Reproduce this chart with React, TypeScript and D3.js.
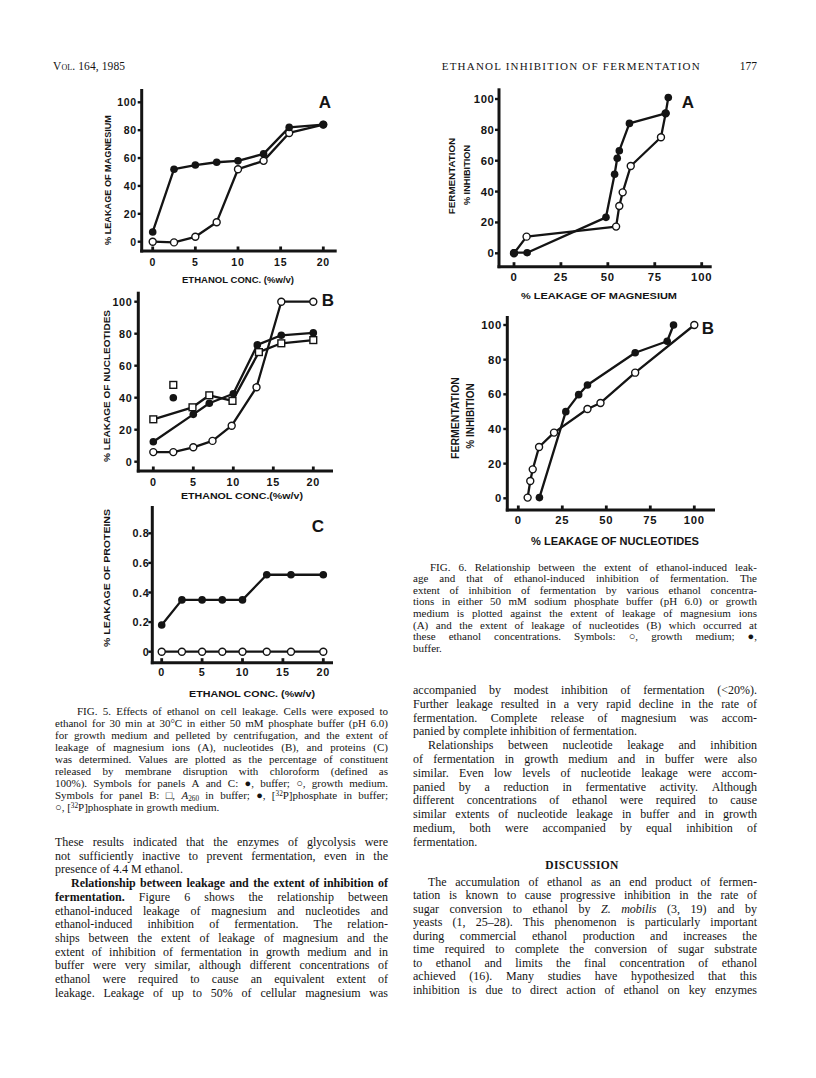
import React from 'react';
import * as d3 from 'd3';

// ---------- DATA ----------
// Fig 5A: % leakage of magnesium vs ethanol conc.
const mgBufferX = [0, 2.5, 5, 7.5, 10, 13, 16, 20];
const mgBufferY = [7, 52, 55, 57, 58, 63, 82, 84];
const mgGrowthX = [0, 2.5, 5, 7.5, 10, 13, 16, 20];
const mgGrowthY = [0, -0.5, 3.5, 14, 52, 58, 78, 84];

// Fig 5B: % leakage of nucleotides
const nucGrowthX = [0, 2.5, 5, 7.4, 9.8, 12.9, 16, 20];
const nucGrowthY = [6, 6, 9, 13, 22.5, 46.5, 100, 100];
const nucBufferX = [0, 5, 7, 10, 13, 16, 20];
const nucBufferY = [12.5, 29.6, 36.5, 42.5, 73, 79, 80.5];
const a260X = [0, 4.9, 7, 9.9, 13.2, 16, 20];
const a260Y = [26.5, 34, 41.5, 38, 68.5, 74, 76];
const nucBufferIsoX = [2.5];
const nucBufferIsoY = [40];
const a260IsoX = [2.5];
const a260IsoY = [48];

// Fig 5C: % leakage of proteins
const protX = [0, 2.5, 5, 7.5, 10, 13, 16, 20];
const protBufferY = [0.18, 0.35, 0.35, 0.35, 0.35, 0.52, 0.52, 0.52];
const protGrowthY = [0, 0, 0, 0, 0, 0, 0, 0];

// Fig 6A: fermentation inhibition vs magnesium leakage
const f6aBufferX = [0, 7, 49, 53.6, 55, 56.1, 61.5, 80.8, 82.2];
const f6aBufferY = [0.4, 0.4, 23.3, 51.2, 61.6, 66.5, 84.2, 90.7, 101];
const f6aGrowthX = [0, 6.7, 54.4, 56.1, 57.9, 62.2, 78.3, 80.8];
const f6aGrowthY = [0, 10.8, 17.3, 30.7, 39.5, 56.6, 75.2, 90.7];

// Fig 6B: fermentation inhibition vs nucleotide leakage
const f6bBufferX = [12, 27, 34.3, 39.3, 66.4, 84.6, 88.2];
const f6bBufferY = [0.4, 50, 59.8, 65.4, 84, 90.6, 100];
const f6bGrowthX = [5.3, 6.8, 8.2, 11.8, 20.3, 39.3, 46.7, 66.4, 100];
const f6bGrowthY = [0.4, 10, 16.7, 29.6, 37.9, 51.5, 55, 72.5, 100];

// Ticks
const ethTicks = [0, 5, 10, 15, 20];
const pctTicks = [0, 20, 40, 60, 80, 100];
const protTicks = [0, 0.2, 0.4, 0.6, 0.8];
const protTickLabels = ['0', '0.2', '0.4', '0.6', '0.8'];
const leakTicks = [0, 25, 50, 75, 100];

// ---------- TEXT ----------
const header = { left: 'Vol. 164, 1985', title: 'ETHANOL INHIBITION OF FERMENTATION', page: '177' };

// ">" = indented first line, "¶" at end = not justified
const fig5Caption = [
  '>FIG. 5. Effects of ethanol on cell leakage. Cells were exposed to',
  'ethanol for 30 min at 30°C in either 50 mM phosphate buffer (pH 6.0)',
  'for growth medium and pelleted by centrifugation, and the extent of',
  'leakage of magnesium ions (A), nucleotides (B), and proteins (C)',
  'was determined. Values are plotted as the percentage of constituent',
  'released by membrane disruption with chloroform (defined as',
  '100%). Symbols for panels A and C: ●, buffer; ○, growth medium.',
  'Symbols for panel B: □, _A_~260~ in buffer; ●, [^32^P]phosphate in buffer;',
  '○, [^32^P]phosphate in growth medium.¶',
];

const leftBody = [
  'These results indicated that the enzymes of glycolysis were',
  'not sufficiently inactive to prevent fermentation, even in the',
  'presence of 4.4 M ethanol.¶',
  '>**Relationship between leakage and the extent of inhibition of**',
  '**fermentation.** Figure 6 shows the relationship between',
  'ethanol-induced leakage of magnesium and nucleotides and',
  'ethanol-induced inhibition of fermentation. The relation-',
  'ships between the extent of leakage of magnesium and the',
  'extent of inhibition of fermentation in growth medium and in',
  'buffer were very similar, although different concentrations of',
  'ethanol were required to cause an equivalent extent of',
  'leakage. Leakage of up to 50% of cellular magnesium was',
];

const fig6Caption = [
  '>FIG. 6. Relationship between the extent of ethanol-induced leak-',
  'age and that of ethanol-induced inhibition of fermentation. The',
  'extent of inhibition of fermentation by various ethanol concentra-',
  'tions in either 50 mM sodium phosphate buffer (pH 6.0) or growth',
  'medium is plotted against the extent of leakage of magnesium ions',
  '(A) and the extent of leakage of nucleotides (B) which occurred at',
  'these ethanol concentrations. Symbols: ○, growth medium; ●,',
  'buffer.¶',
];

const rightBody = [
  'accompanied by modest inhibition of fermentation (<20%).',
  'Further leakage resulted in a very rapid decline in the rate of',
  'fermentation. Complete release of magnesium was accom-',
  'panied by complete inhibition of fermentation.¶',
  '>Relationships between nucleotide leakage and inhibition',
  'of fermentation in growth medium and in buffer were also',
  'similar. Even low levels of nucleotide leakage were accom-',
  'panied by a reduction in fermentative activity. Although',
  'different concentrations of ethanol were required to cause',
  'similar extents of nucleotide leakage in buffer and in growth',
  'medium, both were accompanied by equal inhibition of',
  'fermentation.¶',
];

const discussionTitle = 'DISCUSSION';
const discussionBody = [
  '>The accumulation of ethanol as an end product of fermen-',
  'tation is known to cause progressive inhibition in the rate of',
  'sugar conversion to ethanol by _Z. mobilis_ (3, 19) and by',
  'yeasts (1, 25–28). This phenomenon is particularly important',
  'during commercial ethanol production and increases the',
  'time required to complete the conversion of sugar substrate',
  'to ethanol and limits the final concentration of ethanol',
  'achieved (16). Many studies have hypothesized that this',
  'inhibition is due to direct action of ethanol on key enzymes',
];

// ---------- HELPERS ----------
const SERIF = '"Liberation Serif", "Times New Roman", serif';
const SANS = '"Liberation Sans", Arial, sans-serif';
const INK = '#141414';

type Seg = { t: string; k: 'n' | 'b' | 'i' | 'sup' | 'sub' };
function parse(s: string): Seg[] {
  const out: Seg[] = [];
  const re = /(\*\*[^*]+\*\*|_[^_]+_|\^[^^]+\^|~[^~]+~)/g;
  let last = 0;
  let m: RegExpExecArray | null;
  while ((m = re.exec(s))) {
    if (m.index > last) out.push({ t: s.slice(last, m.index), k: 'n' });
    const tok = m[0];
    if (tok.startsWith('**')) out.push({ t: tok.slice(2, -2), k: 'b' });
    else if (tok[0] === '_') out.push({ t: tok.slice(1, -1), k: 'i' });
    else if (tok[0] === '^') out.push({ t: tok.slice(1, -1), k: 'sup' });
    else out.push({ t: tok.slice(1, -1), k: 'sub' });
    last = re.lastIndex;
  }
  if (last < s.length) out.push({ t: s.slice(last), k: 'n' });
  return out;
}

let ctx: CanvasRenderingContext2D | null = null;
function measure(t: string, size: number, bold: boolean, italic: boolean): number {
  if (!ctx) ctx = document.createElement('canvas').getContext('2d');
  if (!ctx) return t.length * size * 0.45;
  ctx.font = `${italic ? 'italic ' : ''}${bold ? 'bold ' : ''}${size}px "Liberation Serif"`;
  return ctx.measureText(t).width;
}

function segSize(sg: Seg, size: number) {
  return sg.k === 'sup' || sg.k === 'sub' ? size * 0.66 : size;
}

function JustLine({ raw, x, y, width, size, indent }: { raw: string; x: number; y: number; width: number; size: number; indent: number }) {
  let s = raw;
  let ind = 0;
  let just = true;
  if (s.startsWith('>')) { s = s.slice(1); ind = indent; }
  if (s.endsWith('¶')) { s = s.slice(0, -1); just = false; }
  const segs = parse(s);
  const words: Seg[][] = [[]];
  segs.forEach(sg => {
    sg.t.split(' ').forEach((p, idx) => {
      if (idx > 0) words.push([]);
      if (p) words[words.length - 1].push({ t: p, k: sg.k });
    });
  });
  const ws = words.filter(w => w.length > 0);
  let fs = size;
  const wordW = (w: Seg[], f: number) => w.reduce((a, sg) => a + measure(sg.t, segSize(sg, f), sg.k === 'b', sg.k === 'i'), 0);
  const avail = width - ind;
  let total = ws.reduce((a, w) => a + wordW(w, fs), 0);
  const space = measure(' ', fs, false, false);
  if (just && total + space * 0.75 * (ws.length - 1) > avail) {
    fs = fs * avail / (total + space * 0.75 * (ws.length - 1));
    total = ws.reduce((a, w) => a + wordW(w, fs), 0);
  }
  const gap = just && ws.length > 1 ? (avail - total) / (ws.length - 1) : measure(' ', fs, false, false);
  let pos = x + ind;
  return (
    <g>
      {ws.map((w, i) => {
        const wx = pos;
        pos += wordW(w, fs) + gap;
        let shift = 0;
        return (
          <text key={i} x={wx} y={y} fontSize={fs} style={{ whiteSpace: 'pre' }}>
            {w.map((sg, j) => {
              const target = sg.k === 'sup' ? -3 : sg.k === 'sub' ? 2 : 0;
              const dy = target - shift;
              shift = target;
              return (
                <tspan key={j} dy={dy !== 0 ? dy : undefined}
                  fontWeight={sg.k === 'b' ? 'bold' : undefined}
                  fontStyle={sg.k === 'i' ? 'italic' : undefined}
                  fontSize={segSize(sg, fs)}>{sg.t}</tspan>
              );
            })}
          </text>
        );
      })}
    </g>
  );
}

function TextBlock({ lines, x, width, y0, lh, size, indent }: { lines: string[]; x: number; width: number; y0: number; lh: number; size: number; indent: number }) {
  return (
    <g fontFamily={SERIF} fill={INK}>
      {lines.map((raw, i) => (
        <JustLine key={i} raw={raw} x={x} y={y0 + i * lh} width={width} size={size} indent={indent} />
      ))}
    </g>
  );
}

type Series = { xs: number[]; ys: number[]; marker: 'filled' | 'open' | 'square'; line: boolean };
type Title = { text: string; x: number; y: number; len?: number; size?: number };
type PanelCfg = {
  xDom: [number, number]; xRange: [number, number];
  yDom: [number, number]; yRange: [number, number];
  frame: { left: number; right: number; top: number; bottom: number };
  xTicks: number[]; yTicks: number[]; yTickLabels?: string[];
  yLabelGap: number; xLabelGap: number; tickFont: number; titleFont: number;
  letter: string; letterPos: [number, number];
  xTitle: Title;
  yTitles: Title[];
  series: Series[];
};

function TitleText({ t, rotate, font }: { t: Title; rotate: boolean; font: number }) {
  const tr = rotate ? `translate(${t.x},${t.y}) rotate(-90)` : `translate(${t.x},${t.y})`;
  if (t.len) {
    return <text transform={tr} x={-t.len / 2} dominantBaseline="central" fontSize={t.size || font}
      textLength={t.len} lengthAdjust="spacingAndGlyphs">{t.text}</text>;
  }
  return <text transform={tr} textAnchor="middle" dominantBaseline="central" fontSize={t.size || font}>{t.text}</text>;
}

function Panel({ cfg }: { cfg: PanelCfg }) {
  const x = d3.scaleLinear().domain(cfg.xDom).range(cfg.xRange);
  const y = d3.scaleLinear().domain(cfg.yDom).range(cfg.yRange);
  const line = d3.line<[number, number]>().x(d => x(d[0])).y(d => y(d[1]));
  const f = cfg.frame;
  const r = 3.5;
  return (
    <g>
      <line x1={f.left} x2={f.left} y1={f.top} y2={f.bottom + 1.5} stroke={INK} strokeWidth={3} />
      <line x1={f.left - 1.5} x2={f.right} y1={f.bottom} y2={f.bottom} stroke={INK} strokeWidth={3} />
      {cfg.xTicks.map((t, i) => (
        <rect key={'xt' + i} x={x(t) - 1.4} y={f.bottom - 4.5} width={2.8} height={4} fill={INK} />
      ))}
      {cfg.yTicks.map((t, i) => (
        <rect key={'yt' + i} x={f.left - 4} y={y(t) - 1.2} width={4} height={2.4} fill={INK} />
      ))}
      <g fontFamily={SANS} fontWeight="bold" fontSize={cfg.tickFont} fill={INK}>
        {cfg.xTicks.map((t, i) => (
          <text key={'xl' + i} x={x(t)} y={f.bottom + cfg.xLabelGap} textAnchor="middle" dominantBaseline="central" letterSpacing={0.8}>{String(t)}</text>
        ))}
        {cfg.yTicks.map((t, i) => (
          <text key={'yl' + i} x={f.left - cfg.yLabelGap} y={y(t)} textAnchor="end" dominantBaseline="central" letterSpacing={0.6}>
            {cfg.yTickLabels ? cfg.yTickLabels[i] : String(t)}
          </text>
        ))}
      </g>
      <g fontFamily={SANS} fontWeight="bold" fill={INK}>
        <TitleText t={cfg.xTitle} rotate={false} font={cfg.titleFont} />
        {cfg.yTitles.map((t, i) => <TitleText key={i} t={t} rotate={true} font={cfg.titleFont} />)}
      </g>
      <text x={cfg.letterPos[0]} y={cfg.letterPos[1]} fontFamily={SANS} fontWeight="bold" fontSize={17} textAnchor="middle" dominantBaseline="central" fill={INK}>{cfg.letter}</text>
      {cfg.series.filter(s => s.line).map((s, i) => (
        <path key={'l' + i} d={line(s.xs.map((v, k) => [v, s.ys[k]] as [number, number])) || ''} fill="none" stroke={INK} strokeWidth={2.3} strokeLinejoin="round" />
      ))}
      {cfg.series.map((s, i) => (
        <g key={'m' + i}>
          {s.xs.map((v, k) => {
            const cx = x(v), cy = y(s.ys[k]);
            if (s.marker === 'filled') return <circle key={k} cx={cx} cy={cy} r={r + 0.3} fill={INK} />;
            if (s.marker === 'open') return <circle key={k} cx={cx} cy={cy} r={r} fill="#fff" stroke={INK} strokeWidth={1.4} />;
            return <rect key={k} x={cx - 3.4} y={cy - 3.4} width={6.8} height={6.8} fill="#fff" stroke={INK} strokeWidth={1.4} />;
          })}
        </g>
      ))}
    </g>
  );
}

const panels: PanelCfg[] = [
  {
    xDom: [0, 20], xRange: [152.7, 323.3], yDom: [0, 100], yRange: [241.7, 102.3],
    frame: { left: 141.7, right: 336.7, top: 89, bottom: 251 },
    xTicks: ethTicks, yTicks: pctTicks, yLabelGap: 5, xLabelGap: 11, tickFont: 10.5, titleFont: 9,
    letter: 'A', letterPos: [325, 102],
    xTitle: { text: 'ETHANOL CONC. (%w/v)', x: 238, y: 280, len: 112 },
    yTitles: [{ text: '% LEAKAGE OF MAGNESIUM', x: 108, y: 180, len: 130 }],
    series: [
      { xs: mgGrowthX, ys: mgGrowthY, marker: 'open', line: true },
      { xs: mgBufferX, ys: mgBufferY, marker: 'filled', line: true },
    ],
  },
  {
    xDom: [0, 20], xRange: [153.3, 313.3], yDom: [0, 100], yRange: [461.7, 301.7],
    frame: { left: 138.3, right: 333, top: 291.7, bottom: 471 },
    xTicks: ethTicks, yTicks: pctTicks, yLabelGap: 6, xLabelGap: 11, tickFont: 10.8, titleFont: 9.5,
    letter: 'B', letterPos: [328, 300],
    xTitle: { text: 'ETHANOL CONC.(%w/v)', x: 242, y: 495, len: 122 },
    yTitles: [{ text: '% LEAKAGE OF NUCLEOTIDES', x: 106.7, y: 386, len: 152 }],
    series: [
      { xs: nucGrowthX, ys: nucGrowthY, marker: 'open', line: true },
      { xs: a260X, ys: a260Y, marker: 'square', line: true },
      { xs: nucBufferX, ys: nucBufferY, marker: 'filled', line: true },
      { xs: a260IsoX, ys: a260IsoY, marker: 'square', line: false },
      { xs: nucBufferIsoX, ys: nucBufferIsoY, marker: 'filled', line: false },
    ],
  },
  {
    xDom: [0, 20], xRange: [161.7, 323.3], yDom: [0, 0.8], yRange: [651.7, 533.3],
    frame: { left: 152.3, right: 333, top: 506, bottom: 662.7 },
    xTicks: ethTicks, yTicks: protTicks, yTickLabels: protTickLabels, yLabelGap: 3, xLabelGap: 9.5, tickFont: 10.8, titleFont: 9.5,
    letter: 'C', letterPos: [318, 526],
    xTitle: { text: 'ETHANOL CONC. (%w/v)', x: 252, y: 693, len: 126 },
    yTitles: [{ text: '% LEAKAGE OF PROTEINS', x: 106.7, y: 578, len: 138 }],
    series: [
      { xs: protX, ys: protGrowthY, marker: 'open', line: true },
      { xs: protX, ys: protBufferY, marker: 'filled', line: true },
    ],
  },
  {
    xDom: [0, 100], xRange: [514, 701.7], yDom: [0, 100], yRange: [253.3, 99],
    frame: { left: 499, right: 711.7, top: 88.3, bottom: 266.7 },
    xTicks: leakTicks, yTicks: pctTicks, yLabelGap: 4.5, xLabelGap: 10, tickFont: 11.3, titleFont: 9.8,
    letter: 'A', letterPos: [688, 102],
    xTitle: { text: '% LEAKAGE OF MAGNESIUM', x: 599, y: 295, len: 156 },
    yTitles: [{ text: 'FERMENTATION', x: 451.7, y: 176, size: 9.8 }, { text: '% INHIBITION', x: 466.7, y: 175, size: 9.2 }],
    series: [
      { xs: f6aGrowthX, ys: f6aGrowthY, marker: 'open', line: true },
      { xs: f6aBufferX, ys: f6aBufferY, marker: 'filled', line: true },
    ],
  },
  {
    xDom: [0, 100], xRange: [518.3, 694.3], yDom: [0, 100], yRange: [498.3, 325],
    frame: { left: 507.3, right: 715, top: 316, bottom: 510 },
    xTicks: leakTicks, yTicks: pctTicks, yLabelGap: 5.5, xLabelGap: 10, tickFont: 11.3, titleFont: 10,
    letter: 'B', letterPos: [708, 328],
    xTitle: { text: '% LEAKAGE OF NUCLEOTIDES', x: 615, y: 541.7, len: 168 },
    yTitles: [{ text: 'FERMENTATION', x: 455, y: 418, size: 10.5 }, { text: '% INHIBITION', x: 470.7, y: 416, size: 10 }],
    series: [
      { xs: f6bGrowthX, ys: f6bGrowthY, marker: 'open', line: true },
      { xs: f6bBufferX, ys: f6bBufferY, marker: 'filled', line: true },
    ],
  },
];

export default function App() {
  return (
    <svg width={816} height={1078} viewBox="0 0 816 1078" style={{ position: 'absolute', left: 0, top: 0, background: '#fff' }}>
      <rect x={0} y={0} width={816} height={1078} fill="#fff" />
      <g fontFamily={SERIF} fill={INK} fontSize={11.5}>
        <text x={53} y={70} style={{ fontVariant: 'small-caps' }} textLength={72} lengthAdjust="spacing">{header.left}</text>
        <text x={441.7} y={70} textLength={258} lengthAdjust="spacing" fontSize={11}>{header.title}</text>
        <text x={757} y={70} textAnchor="end">{header.page}</text>
      </g>
      {panels.map((p, i) => <Panel key={i} cfg={p} />)}
      <TextBlock lines={fig5Caption} x={55} width={333} y0={715} lh={12} size={11} indent={22} />
      <TextBlock lines={leftBody} x={55} width={333} y0={846} lh={13.7} size={12} indent={16} />
      <TextBlock lines={fig6Caption} x={413} width={344} y0={570.5} lh={11.65} size={11} indent={17} />
      <TextBlock lines={rightBody} x={413} width={344} y0={694} lh={13.8} size={12} indent={15} />
      <text x={582} y={869} fontFamily={SERIF} fontWeight="bold" fontSize={11.5} textAnchor="middle" fill={INK} letterSpacing={0.3}>{discussionTitle}</text>
      <TextBlock lines={discussionBody} x={413} width={344} y0={885.7} lh={13.5} size={12} indent={15} />
    </svg>
  );
}
